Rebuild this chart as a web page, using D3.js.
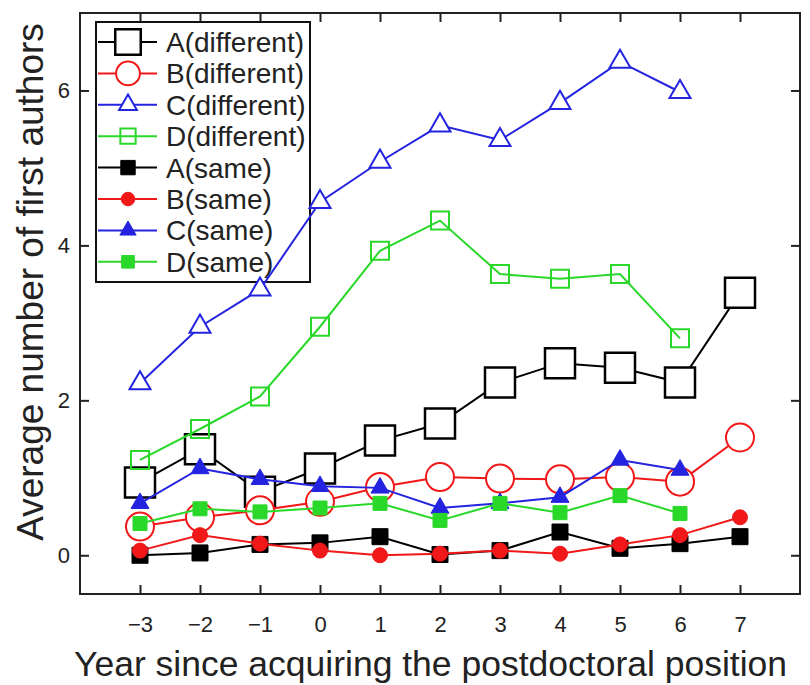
<!DOCTYPE html>
<meta charset="utf-8">
<script src="https://d3js.org/d3.v7.min.js"></script>
<style>
    body { margin: 0; background: #fff; }
    text { font-family: "Liberation Sans", Arial, sans-serif; fill: #222; }
</style>
<svg id="chart" width="810" height="685"></svg>
<script>
    const WIDTH = 810;
    const HEIGHT = 685;
    const margins = { left: 80, right: 10, top: 13, bottom: 91 };

    // data (null = no point)
    const years = [-3, -2, -1, 0, 1, 2, 3, 4, 5, 6, 7];
    const aDifferent = [0.94, 1.37, 0.82, 1.12, 1.48, 1.70, 2.23, 2.48, 2.42, 2.23, 3.39];
    const bDifferent = [0.37, 0.49, 0.58, 0.69, 0.88, 1.01, 0.99, 0.98, 1.01, 0.95, 1.52];
    const cDifferent = [2.22, 2.95, 3.43, 4.56, 5.08, 5.55, 5.36, 5.84, 6.37, 5.98, null];
    const dDifferent = [1.23, 1.63, 2.05, 2.95, 3.93, 4.32, 3.63, 3.57, 3.63, 2.80, null];
    const aSame = [0.00, 0.03, 0.14, 0.16, 0.24, 0.01, 0.06, 0.30, 0.09, 0.15, 0.24];
    const bSame = [0.06, 0.26, 0.15, 0.06, 0.00, 0.02, 0.06, 0.02, 0.14, 0.26, 0.49];
    const cSame = [0.67, 1.12, 0.98, 0.89, 0.87, 0.61, 0.67, 0.75, 1.23, 1.10, null];
    const dSame = [0.41, 0.60, 0.56, 0.61, 0.67, 0.45, 0.67, 0.55, 0.77, 0.54, null];

    const seriesNames = ["A(different)", "B(different)", "C(different)", "D(different)",
        "A(same)", "B(same)", "C(same)", "D(same)"];
    const seriesValues = [aDifferent, bDifferent, cDifferent, dDifferent, aSame, bSame, cSame, dSame];
    const yTicks = [0, 2, 4, 6];

    const BLACK = "#000", RED = "#f01818", BLUE = "#2424e0", GREEN = "#2ad82a";

    // marker styles: shape, side / diameter in px, fill
    const styles = [
        { color: BLACK, shape: d3.symbolSquare, size: 30, fill: "#fff", width: 2.5 },
        { color: RED, shape: d3.symbolCircle, size: 28, fill: "#fff", width: 2 },
        { color: BLUE, shape: d3.symbolTriangle, size: 21, fill: "#fff", width: 2 },
        { color: GREEN, shape: d3.symbolSquare, size: 18, fill: "none", width: 2 },
        { color: BLACK, shape: d3.symbolSquare, size: 16, fill: BLACK, width: 1 },
        { color: RED, shape: d3.symbolCircle, size: 15, fill: RED, width: 1 },
        { color: BLUE, shape: d3.symbolTriangle, size: 18, fill: BLUE, width: 1 },
        { color: GREEN, shape: d3.symbolSquare, size: 14, fill: GREEN, width: 1 }
    ];

    // convert a side/diameter to the area d3.symbol wants
    const area = (st, scale) => {
        const s = st.size * scale;
        if (st.shape === d3.symbolCircle) return Math.PI * s * s / 4;
        if (st.shape === d3.symbolTriangle) return s * s * Math.sqrt(3) / 4;
        return s * s;
    };

    const x = d3.scaleLinear()
        .domain([-4, 8])
        .range([margins.left, WIDTH - margins.right]);

    const y = d3.scaleLinear()
        .domain([-0.5, 7])
        .range([HEIGHT - margins.bottom, margins.top]);

    const svg = d3.select("#chart");
    const x0 = x.range()[0], x1 = x.range()[1];
    const y0 = y.range()[0], y1 = y.range()[1];

    // axes, ticks pointing inward on all four sides
    const styleAxis = g => {
        g.select(".domain").remove();
        g.selectAll(".tick line").attr("stroke", "#222").attr("stroke-width", 2);
        g.selectAll(".tick text").style("font-size", "22px").attr("fill", "#222");
    };

    svg.append("g")
        .attr("transform", `translate(0,${y0})`)
        .call(d3.axisBottom(x).tickValues(years).tickSize(-9).tickPadding(22))
        .call(styleAxis);
    svg.append("g")
        .attr("transform", `translate(0,${y1})`)
        .call(d3.axisTop(x).tickValues(years).tickSize(-9).tickFormat(""))
        .call(styleAxis);
    svg.append("g")
        .attr("transform", `translate(${x0},0)`)
        .call(d3.axisLeft(y).tickValues(yTicks).tickSize(-9).tickPadding(10))
        .call(styleAxis);
    svg.append("g")
        .attr("transform", `translate(${x1},0)`)
        .call(d3.axisRight(y).tickValues(yTicks).tickSize(-9).tickFormat(""))
        .call(styleAxis);

    svg.append("rect")
        .attr("x", x0).attr("y", y1)
        .attr("width", x1 - x0).attr("height", y0 - y1)
        .attr("fill", "none").attr("stroke", "#222").attr("stroke-width", 2);

    // axis titles
    svg.append("text")
        .attr("x", 74).attr("y", 676)
        .style("font-size", "35.5px")
        .text("Year since acquiring the postdoctoral position");
    svg.append("text")
        .attr("transform", "translate(43,282) rotate(-90)")
        .attr("text-anchor", "middle")
        .style("font-size", "37px")
        .text("Average number of first authors");

    // legend (drawn under the data lines)
    const legend = svg.append("g").attr("class", "legend");
    legend.append("rect")
        .attr("x", 96).attr("y", 22).attr("width", 214).attr("height", 260)
        .attr("fill", "#fff").attr("stroke", "#111").attr("stroke-width", 2);

    legend.selectAll("g.item")
        .data(seriesNames)
        .join("g")
        .attr("class", "item")
        .attr("transform", (d, i) => `translate(0,${42 + i * 31.4})`)
        .each(function (d, i) {
            const g = d3.select(this);
            const st = styles[i];
            g.append("line")
                .attr("x1", 98).attr("x2", 157)
                .attr("stroke", st.color).attr("stroke-width", 2);
            g.append("path")
                .attr("transform", "translate(128,0)")
                .attr("d", d3.symbol(st.shape, area(st, i < 4 ? 0.85 : 0.9))())
                .attr("fill", st.fill).attr("stroke", st.color).attr("stroke-width", st.width);
            g.append("text")
                .attr("x", 166).attr("y", 10)
                .style("font-size", "28px")
                .text(d);
        });

    // series
    const line = d3.line()
        .defined(d => d.v !== null)
        .x(d => x(d.year))
        .y(d => y(d.v));

    seriesValues.forEach((vals, i) => {
        const st = styles[i];
        const pts = years.map((year, j) => ({ year, v: vals[j] }));
        const g = svg.append("g").attr("class", "series");
        g.append("path")
            .datum(pts)
            .attr("d", line)
            .attr("fill", "none")
            .attr("stroke", st.color)
            .attr("stroke-width", 2);
        g.selectAll("path.mark")
            .data(pts.filter(d => d.v !== null))
            .join("path")
            .attr("class", "mark")
            .attr("transform", d => `translate(${x(d.year)},${y(d.v)})`)
            .attr("d", d3.symbol(st.shape, area(st, 1))())
            .attr("fill", st.fill)
            .attr("stroke", st.color)
            .attr("stroke-width", st.width);
    });
</script>
